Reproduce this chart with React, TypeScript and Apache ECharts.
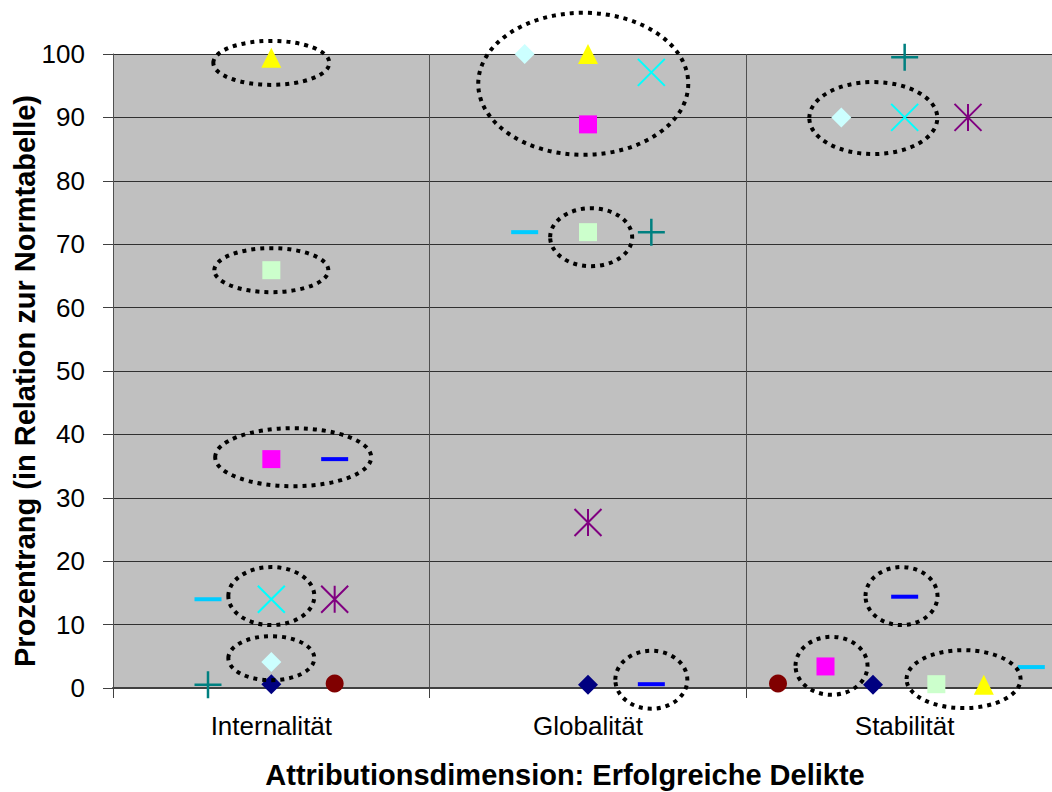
import React, { useEffect, useRef } from "react";
import * as echarts from "echarts";

const categories = ["Internalität", "Globalität", "Stabilität"];

// values per category (null = not shown), and horizontal offsets within each category band
const circleValues = [0.7, null, 0.7];
const circleOffsets = [0.2, 0, -0.4];
const navyDiamondValues = [0.6, 0.5, 0.5];
const navyDiamondOffsets = [0, 0, -0.1];
const magentaSquareValues = [36.1, 88.9, 3.4];
const magentaSquareOffsets = [0, 0, -0.25];
const yellowTriangleValues = [99.4, 100, 0.5];
const yellowTriangleOffsets = [0, 0, 0.25];
const lightDiamondValues = [4.1, 100, 90];
const lightDiamondOffsets = [0, -0.2, -0.2];
const greenSquareValues = [65.9, 71.9, 0.6];
const greenSquareOffsets = [0, 0, 0.1];
const crossValues = [14.0, 97.1, 90];
const crossOffsets = [0, 0.2, 0];
const asteriskValues = [14.0, 26.1, 90];
const asteriskOffsets = [0.2, 0, 0.2];
const plusValues = [0.5, 71.9, 99.5];
const plusOffsets = [-0.2, 0.2, 0];
const blueDashValues = [36.1, 0.6, 14.4];
const blueDashOffsets = [0.2, 0.2, 0];
const skyDashValues = [14.0, 71.9, 3.3];
const skyDashOffsets = [-0.2, -0.2, 0.4];

// highlighted groups (centre in data units)
const ellipseCenters = [
  [0.5, 98.6],
  [0.5, 65.9],
  [0.569, 36.4],
  [0.5, 14.5],
  [0.5, 4.7],
  [1.485, 95.3],
  [1.51, 71.1],
  [1.7, 1.3],
  [2.401, 89.9],
  [2.49, 14.5],
  [2.269, 3.5],
  [2.686, 1.4],
];
const ellipseRadii = [
  [58, 22],
  [57, 22],
  [78, 29],
  [43, 29],
  [43, 22],
  [105, 71],
  [41, 29],
  [36, 29],
  [64, 36],
  [36, 29],
  [36, 29],
  [57, 29],
];

const FONT = "'Liberation Sans', Arial, sans-serif";

function pts(values: (number | null)[], offsets: number[]) {
  const out: number[][] = [];
  values.forEach((v, i) => {
    if (v !== null && v !== undefined) out.push([i + 0.5 + offsets[i], v]);
  });
  return out;
}

function scatter(
  name: string,
  values: (number | null)[],
  offsets: number[],
  symbol: string,
  size: number | number[],
  color: string,
  stroke?: string,
  strokeWidth?: number
) {
  return {
    type: "scatter",
    name,
    xAxisIndex: 1,
    yAxisIndex: 0,
    data: pts(values, offsets),
    symbol,
    symbolSize: size,
    clip: false,
    z: 3,
    itemStyle: stroke
      ? { color: "rgba(0,0,0,0)", borderColor: stroke, borderWidth: strokeWidth || 2, opacity: 1 }
      : { color, borderWidth: 0, opacity: 1 },
    emphasis: { disabled: true },
  };
}

export default function App() {
  const ref = useRef<HTMLDivElement>(null);
  useEffect(() => {
    if (!ref.current) return;
    const chart = echarts.init(ref.current, undefined, { renderer: "svg" });
    const X = "path://M0,0 L10,10 M10,0 L0,10";
    const PLUS = "path://M5,0 L5,10 M0,5 L10,5";
    const STAR = "path://M0,0 L10,10 M10,0 L0,10 M5,0 L5,10";
    chart.setOption({
      animation: false,
      grid: {
        left: 113,
        top: 54,
        bottom: 104,
        right: 0,
        show: true,
        backgroundColor: "#C0C0C0",
        borderWidth: 0,
      },
      xAxis: [
        {
          type: "category",
          data: categories,
          boundaryGap: true,
          axisLine: { show: true, lineStyle: { color: "#404040", width: 2 } },
          axisTick: { show: true, length: 10, lineStyle: { color: "#404040", width: 1 } },
          axisLabel: { color: "#000", fontSize: 26, fontFamily: FONT, margin: 25 },
          splitLine: { show: true, lineStyle: { color: "#505050", width: 1 } },
          z: 1,
        },
        { type: "value", min: 0, max: 3, show: false },
      ],
      yAxis: {
        type: "value",
        min: 0,
        max: 100,
        interval: 10,
        axisLine: { show: true, lineStyle: { color: "#404040", width: 1 } },
        axisTick: { show: true, length: 10, lineStyle: { color: "#404040" } },
        axisLabel: { color: "#000", fontSize: 26, fontFamily: FONT, margin: 28 },
        splitLine: { show: true, lineStyle: { color: "#303030", width: 1 } },
      },
      graphic: [
        {
          type: "text",
          x: 565,
          y: 775,
          style: {
            text: "Attributionsdimension: Erfolgreiche Delikte",
            font: `bold 29px ${FONT}`,
            fill: "#000",
            textAlign: "center",
            textVerticalAlign: "middle",
          },
        },
        {
          type: "text",
          x: 25,
          y: 381,
          rotation: Math.PI / 2,
          style: {
            text: "Prozentrang (in Relation zur Normtabelle)",
            font: `bold 29px ${FONT}`,
            fill: "#000",
            textAlign: "center",
            textVerticalAlign: "middle",
          },
        },
      ],
      series: [
        scatter("circle", circleValues, circleOffsets, "circle", 18, "#800000"),
        scatter("navyDiamond", navyDiamondValues, navyDiamondOffsets, "diamond", 20, "#000080"),
        scatter("magentaSquare", magentaSquareValues, magentaSquareOffsets, "rect", 18, "#FF00FF"),
        scatter("yellowTriangle", yellowTriangleValues, yellowTriangleOffsets, "triangle", 20, "#FFFF00"),
        scatter("lightDiamond", lightDiamondValues, lightDiamondOffsets, "diamond", 20, "#CCFFFF"),
        scatter("greenSquare", greenSquareValues, greenSquareOffsets, "rect", 18, "#CCFFCC"),
        scatter("cross", crossValues, crossOffsets, X, 27, "", "#00FFFF", 2),
        scatter("asterisk", asteriskValues, asteriskOffsets, STAR, 27, "", "#800080", 2),
        scatter("plus", plusValues, plusOffsets, PLUS, 27, "", "#008080", 2.5),
        scatter("blueDash", blueDashValues, blueDashOffsets, "rect", [27, 4], "#0000FF"),
        scatter("skyDash", skyDashValues, skyDashOffsets, "rect", [27, 4], "#00CCFF"),
        {
          type: "custom",
          xAxisIndex: 1,
          yAxisIndex: 0,
          clip: false,
          z: 10,
          silent: true,
          encode: { x: 0, y: 1 },
          data: ellipseCenters.map((c, i) => [c[0], c[1], ellipseRadii[i][0], ellipseRadii[i][1]]),
          renderItem: (params: any, api: any) => {
            const p = api.coord([api.value(0), api.value(1)]);
            return {
              type: "ellipse",
              shape: { cx: p[0], cy: p[1], rx: api.value(2), ry: api.value(3) },
              style: {
                fill: "none",
                stroke: "#000",
                lineWidth: 4,
                lineDash: [4, 5],
              },
            };
          },
        },
      ],
    });
    return () => chart.dispose();
  }, []);
  return (
    <div
      style={{
        position: "fixed",
        left: 0,
        top: 0,
        width: 1052,
        height: 792,
        overflow: "hidden",
        background: "#fff",
      }}
    >
      <div ref={ref} style={{ position: "absolute", left: 0, top: 0, width: 1062.5, height: 792 }} />
    </div>
  );
}
